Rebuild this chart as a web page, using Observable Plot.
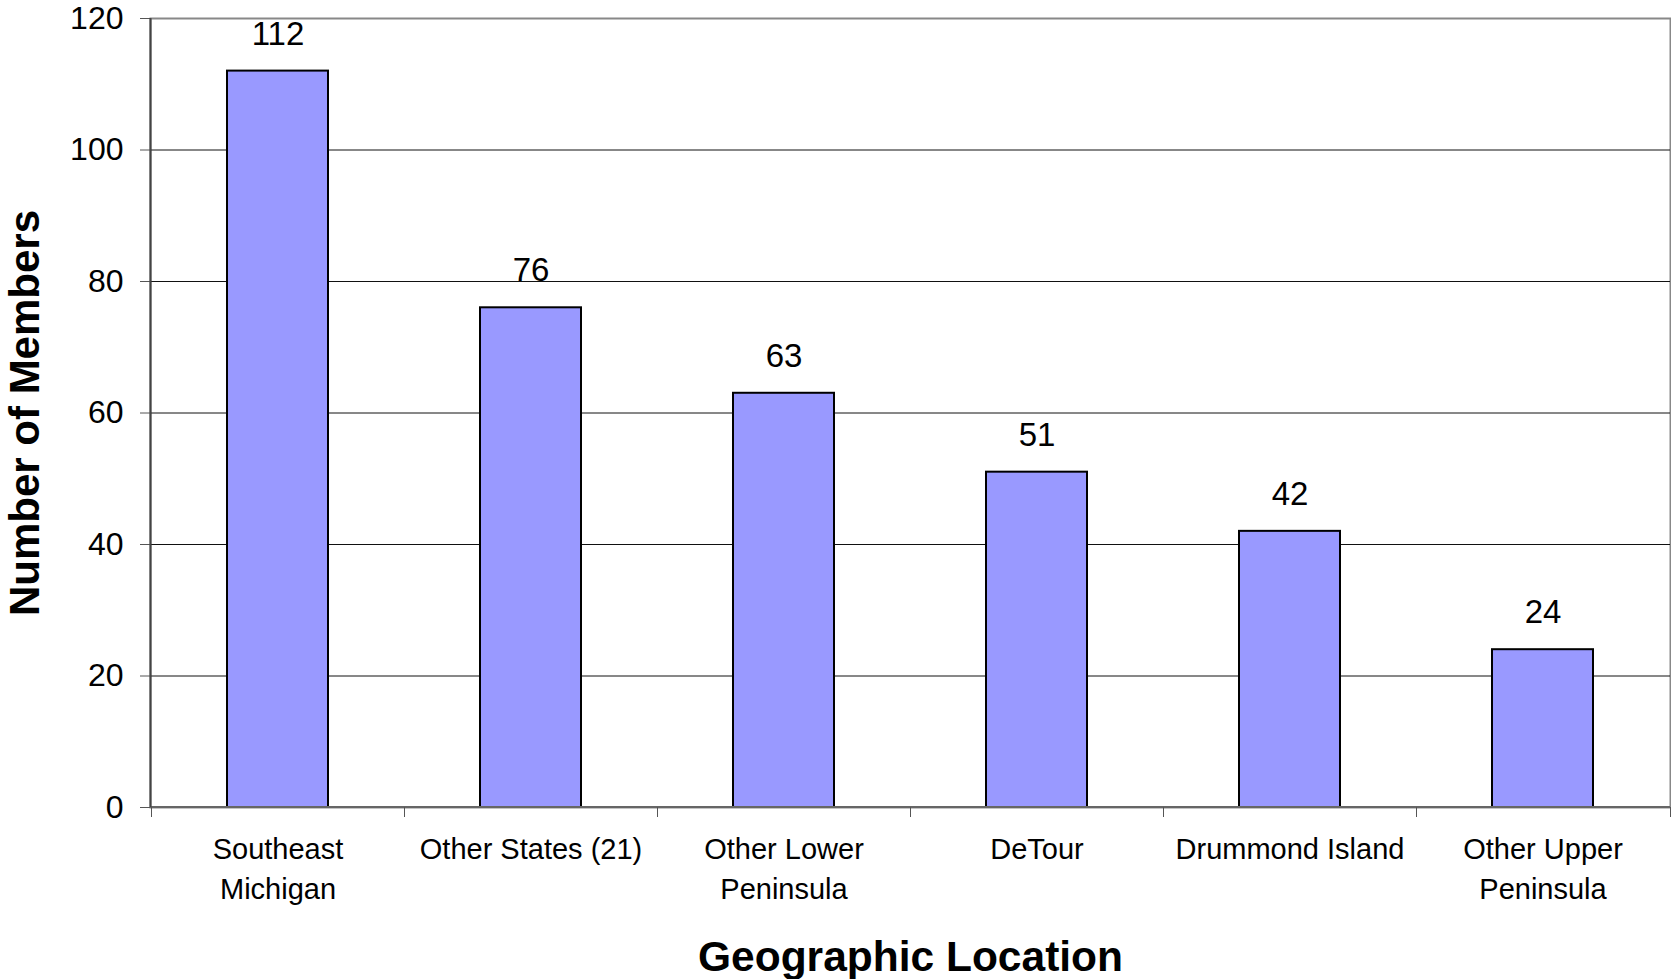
<!DOCTYPE html>
<html>
<head>
<meta charset="utf-8">
<script src="https://cdn.jsdelivr.net/npm/d3@7"></script>
<script src="https://cdn.jsdelivr.net/npm/@observablehq/plot@0.6"></script>
<style>
  html, body { margin: 0; padding: 0; background: #fff; overflow: hidden; }
  #chart svg { display: block; }
</style>
</head>
<body>
<div id="chart"></div>
<script>
// Membership counts by geographic location
const locations = [
  "Southeast Michigan",
  "Other States (21)",
  "Other Lower Peninsula",
  "DeTour",
  "Drummond Island",
  "Other Upper Peninsula"
];
const tickLabels = [
  "Southeast\nMichigan",
  "Other States (21)",
  "Other Lower\nPeninsula",
  "DeTour",
  "Drummond Island",
  "Other Upper\nPeninsula"
];
const members = [112, 76, 63, 51, 42, 24];
const yTicks = [0, 20, 40, 60, 80, 100, 120];

const data = locations.map((location, i) => ({location, members: members[i]}));
const labelOf = new Map(locations.map((l, i) => [l, tickLabels[i]]));

const FONT = "'Liberation Sans', Arial, Helvetica, sans-serif";

// Left axis line, baseline and the small ticks that separate the categories
function categoryAxis(index, scales, values, dimensions) {
  const {width, marginLeft, marginRight} = dimensions;
  const x = scales.x, y = scales.y;
  const bw = typeof x.bandwidth === "function" ? x.bandwidth() : x.bandwidth;
  const step = typeof x.step === "function" ? x.step() : (x.step ?? bw / 0.4);
  const y0 = y(0), yTop = y(120);
  const edges = locations.map(l => x(l) - (step - bw) / 2).concat([width - marginRight]);
  const g = d3.create("svg:g").attr("fill", "none");
  g.append("line")
    .attr("x1", marginLeft).attr("x2", width - marginRight)
    .attr("y1", y0).attr("y2", y0)
    .attr("stroke", "#666").attr("stroke-width", 2);
  g.selectAll("line.sep").data(edges).join("line")
    .attr("class", "sep")
    .attr("x1", d => Math.round(d) + 0.5).attr("x2", d => Math.round(d) + 0.5)
    .attr("y1", y0).attr("y2", y0 + 10)
    .attr("stroke", "#555").attr("stroke-width", 1);
  g.append("line")
    .attr("x1", marginLeft + 0.5).attr("x2", marginLeft + 0.5)
    .attr("y1", yTop).attr("y2", y0)
    .attr("stroke", "#444").attr("stroke-width", 2);
  return g.node();
}

const chart = Plot.plot({
  width: 1671,
  height: 979,
  marginLeft: 150,
  marginRight: 1,
  marginTop: 18,
  marginBottom: 172,
  style: {fontFamily: FONT, color: "#000", background: "#fff"},
  x: {domain: locations, paddingInner: 0.6, paddingOuter: 0.3, label: null},
  y: {domain: [0, 120], label: null},
  marks: [
    Plot.frame({stroke: "#888", strokeWidth: 2}),
    Plot.ruleY(yTicks.filter(v => v > 0 && v < 120), {stroke: "#111", strokeWidth: 1}),
    Plot.barY(data, {x: "location", y: "members", fill: "#9999ff", stroke: "#000", strokeWidth: 2}),
    Plot.text(data, {
      x: "location", y: "members", text: d => String(d.members),
      dy: -37, lineAnchor: "middle", fontSize: 33, fill: "#000"
    }),
    Plot.axisY({
      ticks: yTicks, tickSize: 10, tickPadding: 17, fontSize: 32,
      stroke: "#555", fill: "#000", label: null
    }),
    Plot.axisX({
      tickSize: 0, tickPadding: 23, fontSize: 29, lineHeight: 1.38,
      tickFormat: d => labelOf.get(d), fill: "#000", label: null
    }),
    categoryAxis,
    Plot.text(["Geographic Location"], {
      frameAnchor: "bottom", dy: 150, lineAnchor: "middle", textAnchor: "middle",
      fontSize: 42.5, fontWeight: "bold", fill: "#000"
    }),
    Plot.text(["Number of Members"], {
      frameAnchor: "left", rotate: -90, dx: -125, lineAnchor: "middle", textAnchor: "middle",
      fontSize: 42, fontWeight: "bold", fill: "#000"
    })
  ]
});

document.getElementById("chart").appendChild(chart);
</script>
</body>
</html>
